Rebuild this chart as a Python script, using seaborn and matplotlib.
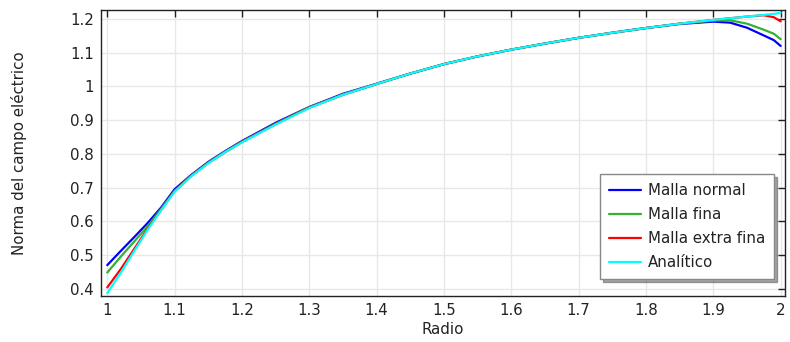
import matplotlib
matplotlib.use("Agg")
import matplotlib.pyplot as plt
from matplotlib.ticker import FormatStrFormatter, MultipleLocator
import pandas as pd
import seaborn as sns

# Radial positions where the field norm was evaluated
radio = [1.0, 1.02, 1.04, 1.06, 1.08, 1.1, 1.125, 1.15, 1.175, 1.2, 1.25, 1.3,
         1.35, 1.4, 1.45, 1.5, 1.55, 1.6, 1.65, 1.7, 1.75, 1.8, 1.85, 1.9,
         1.925, 1.95, 1.975, 1.99, 2.0]

malla_normal = [0.470, 0.512, 0.553, 0.595, 0.641, 0.695, 0.738, 0.776, 0.808,
                0.838, 0.892, 0.939, 0.978, 1.008, 1.038, 1.066, 1.089, 1.109,
                1.127, 1.144, 1.159, 1.173, 1.185, 1.192, 1.189, 1.174, 1.151,
                1.137, 1.120]

malla_fina = [0.448, 0.495, 0.540, 0.585, 0.637, 0.690, 0.736, 0.774, 0.806,
              0.836, 0.889, 0.938, 0.976, 1.007, 1.038, 1.066, 1.089, 1.109,
              1.127, 1.144, 1.159, 1.173, 1.186, 1.195, 1.196, 1.186, 1.168,
              1.156, 1.140]

malla_extra_fina = [0.404, 0.458, 0.518, 0.578, 0.634, 0.689, 0.735, 0.773,
                    0.805, 0.835, 0.888, 0.937, 0.975, 1.007, 1.038, 1.066,
                    1.089, 1.109, 1.127, 1.144, 1.159, 1.173, 1.186, 1.197,
                    1.202, 1.207, 1.211, 1.205, 1.193]

analitico = [0.387, 0.447, 0.512, 0.575, 0.633, 0.688, 0.734, 0.772, 0.805,
             0.834, 0.887, 0.936, 0.975, 1.007, 1.038, 1.066, 1.089, 1.109,
             1.127, 1.144, 1.159, 1.173, 1.186, 1.197, 1.202, 1.207, 1.212,
             1.215, 1.218]

series_names = ["Malla normal", "Malla fina", "Malla extra fina", "Analítico"]
series_colors = ["#0000ff", "#33b233", "#ff0000", "#00ffff"]

frames = []
for name, vals in zip(series_names,
                      [malla_normal, malla_fina, malla_extra_fina, analitico]):
    frames.append(pd.DataFrame({"Radio": radio, "E": vals, "serie": name}))
df = pd.concat(frames, ignore_index=True)

sns.set_theme(style="white")
plt.rcParams["font.family"] = ["DejaVu Sans"]
FS = 10.8

fig = plt.figure(figsize=(7.90, 3.42), dpi=100)
ax = fig.add_axes([101 / 790, 1 - 296 / 342, 684 / 790, 286 / 342])

sns.lineplot(data=df, x="Radio", y="E", hue="serie", hue_order=series_names,
             palette=series_colors, sort=False, estimator=None,
             linewidth=1.6, ax=ax, legend=False)

ax.set_xlim(0.9907, 2.0065)
ax.set_ylim(0.3785, 1.2265)
ax.xaxis.set_major_locator(MultipleLocator(0.1))
ax.yaxis.set_major_locator(MultipleLocator(0.1))
ax.xaxis.set_major_formatter(FormatStrFormatter("%g"))
ax.yaxis.set_major_formatter(FormatStrFormatter("%g"))

ax.grid(True, color="#e8e8e8", linewidth=1.0)
ax.set_axisbelow(True)
for sp in ax.spines.values():
    sp.set_color("#222222")
    sp.set_linewidth(1.0)
ax.tick_params(axis="both", which="major", direction="in", length=5,
               width=1.0, color="#222222", top=True, right=True,
               labelsize=FS, labelcolor="#222222", pad=5)

ax.set_xlabel("Radio", fontsize=FS, color="#222222", labelpad=3)
ax.set_ylabel("Norma del campo eléctrico", fontsize=FS, color="#222222",
              labelpad=31)

handles = [plt.Line2D([0], [0], color=c, linewidth=1.6) for c in series_colors]
leg = ax.legend(handles, series_names, loc="lower right",
                bbox_to_anchor=(0.984, 0.059), borderaxespad=0,
                fontsize=FS, frameon=True, fancybox=False, shadow=True,
                handlelength=2.15, labelspacing=0.6, borderpad=0.6,
                handletextpad=0.45)
leg.get_frame().set_edgecolor("#888888")
leg.get_frame().set_linewidth(1.0)
for t in leg.get_texts():
    t.set_color("#222222")

fig.savefig("out.png", dpi=100)
